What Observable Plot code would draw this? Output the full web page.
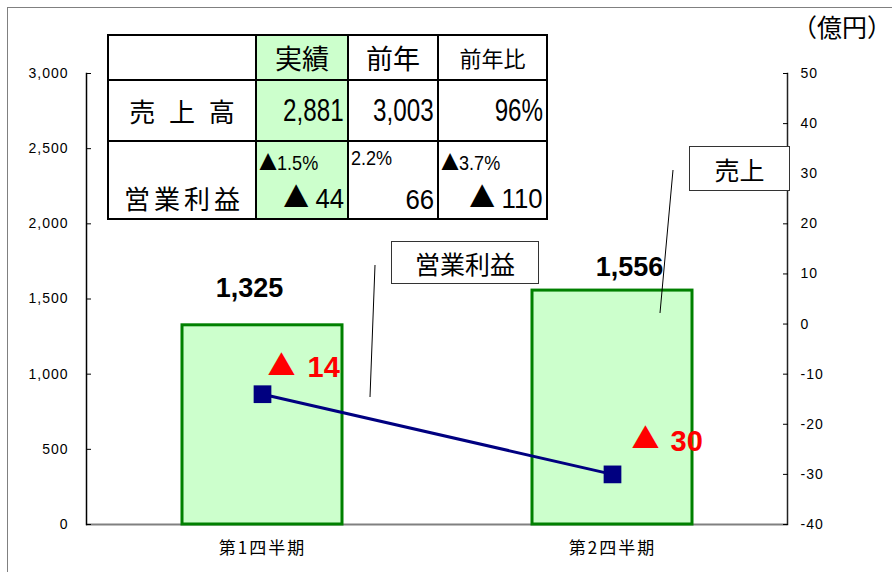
<!DOCTYPE html>
<html><head><meta charset="utf-8">
<script src="https://cdn.jsdelivr.net/npm/d3@7"></script>
<script src="https://cdn.jsdelivr.net/npm/@observablehq/plot@0.6"></script>
<style>
body{margin:0;background:#fff;}
#wrap{position:relative;width:892px;height:572px;overflow:hidden;font-family:'Liberation Sans','Noto Sans CJK JP',sans-serif;}
#frame{position:absolute;left:7px;top:7px;width:1000px;height:1000px;border-left:1.5px solid #808080;border-top:1.5px solid #808080;}
#tbl{position:absolute;left:107px;top:34px;border-collapse:collapse;table-layout:fixed;width:439px;}
#tbl td{border:2px solid #000;padding:0;position:relative;}
#tbl td.g{background:#ccffcc;border-right:2px dotted #888;}
.jp{font-family:'Noto Sans CJK JP',sans-serif;}
.tri{font-family:'Noto Sans CJK JP',sans-serif;}
.big .tri{margin-right:7px;}
.num{display:inline-block;font-family:'Liberation Sans',sans-serif;transform:scaleX(0.8);transform-origin:right center;white-space:nowrap;}
.unit{position:absolute;right:0px;top:14px;font-size:25px;line-height:25px;font-family:'Noto Sans CJK JP',sans-serif;}
.callout{position:absolute;border:1px solid #333;background:#fff;font-family:'Noto Sans CJK JP',sans-serif;font-size:25px;display:flex;align-items:center;justify-content:center;box-sizing:border-box;}
#lines{position:absolute;left:0;top:0;}
g[aria-label="y-axis tick label"] text{letter-spacing:1px;}
g[aria-label="x-axis tick label"] text{letter-spacing:2px;}
</style></head><body><div id="wrap"><div id="frame"></div></div><script>
const quarters = ["第1四半期", "第2四半期"];
const sales = [1325, 1556];
const profit = [-14, -30];
const salesTicks = [0, 500, 1000, 1500, 2000, 2500, 3000];
const profitTicks = [-40, -30, -20, -10, 0, 10, 20, 30, 40, 50];
const tableCols = ["実績", "前年", "前年比"];
const salesLabel = "売 上 高";
const salesRow = ["2,881", "3,003", "96%"];
const profitLabel = "営業利益";
const profitPct = ["▲1.5%", "2.2%", "▲3.7%"];
const profitRow = ["▲44", "66", "▲110"];
const unitLabel = "（億円）";
const calloutProfit = "営業利益";
const calloutSales = "売上";

const sMax = 3000, pMin = -40, pMax = 50;
const toS = p => (p - pMin) / (pMax - pMin) * sMax;
const toP = s => s / sMax * (pMax - pMin) + pMin;
const fmt = d3.format(",");

const data = quarters.map((q, i) => ({q, s: sales[i], p: profit[i]}));

const redTri = {fill: "#ff0000", fontSize: 28, fontFamily: "'Noto Sans CJK JP',sans-serif", textAnchor: "start"};
const redNum = {fill: "#ff0000", fontSize: 29, fontWeight: "bold", fontFamily: "'Liberation Sans',sans-serif", textAnchor: "start"};

const chart = Plot.plot({
  width: 892, height: 572,
  marginLeft: 86, marginRight: 105, marginTop: 73, marginBottom: 48,
  style: {background: "transparent", fontFamily: "'Liberation Sans','Noto Sans CJK JP',sans-serif", overflow: "visible"},
  x: {domain: quarters, paddingInner: 0.543, paddingOuter: 0.2715, label: null},
  y: {domain: [0, sMax], label: null},
  marks: [
    Plot.ruleY([0], {stroke: "#808080", strokeWidth: 2}),
    Plot.barY(data, {x: "q", y: "s", fill: "#ccffcc", stroke: "#008000", strokeWidth: 3}),
    Plot.lineY(data, {x: "q", y: d => toS(d.p), stroke: "#000080", strokeWidth: 3}),
    Plot.dot(data, {x: "q", y: d => toS(d.p), symbol: "square", r: 10, fill: "#000080"}),
    Plot.frame({anchor: "left", stroke: "#000", strokeWidth: 1.5}),
    Plot.frame({anchor: "right", stroke: "#222", strokeWidth: 1.5}),
    Plot.axisY(salesTicks, {anchor: "left", tickFormat: fmt, tickSize: -5, tickPadding: 23, fontSize: 14, label: null}),
    Plot.axisY(profitTicks.map(toS), {anchor: "right", tickFormat: d => String(Math.round(toP(d))), tickSize: -5, tickPadding: 18, fontSize: 14, label: null}),
    Plot.axisX({tickSize: 0, tickPadding: 17, fontSize: 17, fontFamily: "'Noto Sans CJK JP',sans-serif", label: null}),
    Plot.text([data[0]], {x: "q", y: "s", text: d => fmt(d.s), dx: -13, dy: -37, fontSize: 27, fontWeight: "bold"}),
    Plot.text([data[1]], {x: "q", y: "s", text: d => fmt(d.s), dx: 17, dy: -23, fontSize: 27, fontWeight: "bold"}),
    Plot.text([data[0]].filter(d => d.p < 0), {x: "q", y: d => toS(d.p), text: () => "▲", dx: 5, dy: -27, ...redTri}),
    Plot.text([data[0]], {x: "q", y: d => toS(d.p), text: d => String(Math.abs(d.p)), dx: 45, dy: -26, ...redNum}),
    Plot.text([data[1]].filter(d => d.p < 0), {x: "q", y: d => toS(d.p), text: () => "▲", dx: 19, dy: -34, ...redTri}),
    Plot.text([data[1]], {x: "q", y: d => toS(d.p), text: d => String(Math.abs(d.p)), dx: 58, dy: -33, ...redNum})
  ]
});
const wrap = document.getElementById("wrap");
wrap.appendChild(chart);

// table
const tri = s => s.replace(/▲/g, '<span class="tri">▲</span>');
const widths = [148, 92, 90, 109];
const heights = [45, 61, 78];
const tbl = document.createElement("table");
tbl.id = "tbl";
const cg = document.createElement("colgroup");
widths.forEach(w => { const c = document.createElement("col"); c.style.width = w + "px"; cg.appendChild(c); });
tbl.appendChild(cg);
function row(h) { const tr = document.createElement("tr"); tr.style.height = h + "px"; tbl.appendChild(tr); return tr; }
let tr = row(heights[0]);
let td = document.createElement("td"); tr.appendChild(td);
tableCols.forEach((c, i) => {
  const t = document.createElement("td");
  if (i === 0) t.className = "g";
  t.innerHTML = `<div class="jp" style="text-align:center;font-size:${i === 2 ? 22 : 27}px;line-height:${heights[0] - 4}px;">${c}</div>`;
  tr.appendChild(t);
});
tr = row(heights[1]);
td = document.createElement("td");
td.innerHTML = `<div class="jp" style="text-align:center;font-size:26px;letter-spacing:4px;padding-left:4px;">${salesLabel}</div>`;
tr.appendChild(td);
salesRow.forEach((v, i) => {
  const t = document.createElement("td");
  if (i === 0) t.className = "g";
  t.innerHTML = `<div style="text-align:right;padding-right:3px;font-size:31px;"><span class="num" style="transform:scaleX(0.78)">${v}</span></div>`;
  tr.appendChild(t);
});
tr = row(heights[2]);
td = document.createElement("td");
td.style.verticalAlign = "bottom";
td.innerHTML = `<div class="jp" style="text-align:center;font-size:26px;letter-spacing:4px;padding-left:4px;padding-bottom:2px;">${profitLabel}</div>`;
tr.appendChild(td);
profitRow.forEach((v, i) => {
  const t = document.createElement("td");
  if (i === 0) t.className = "g";
  t.innerHTML = `<div style="position:relative;height:${heights[2] - 4}px;">
    <span style="position:absolute;left:2px;top:3px;font-size:21px;"><span class="num" style="transform-origin:left center;transform:scaleX(0.86)">${tri(profitPct[i])}</span></span>
    <span class="big" style="position:absolute;right:3px;bottom:1px;font-size:28px;"><span class="num" style="transform:scaleX(0.92)">${tri(v)}</span></span></div>`;
  tr.appendChild(t);
});
wrap.appendChild(tbl);

// unit
const u = document.createElement("div");
u.className = "unit"; u.textContent = unitLabel;
wrap.appendChild(u);

// callouts
function callout(text, l, t, w, h) {
  const d = document.createElement("div");
  d.className = "callout"; d.textContent = text;
  Object.assign(d.style, {left: l + "px", top: t + "px", width: w + "px", height: h + "px"});
  wrap.appendChild(d);
}
const ns = "http://www.w3.org/2000/svg";
const svg = document.createElementNS(ns, "svg");
svg.setAttribute("id", "lines"); svg.setAttribute("width", 892); svg.setAttribute("height", 572);
[[375, 265, 370, 397], [673, 170, 660, 313]].forEach(([x1, y1, x2, y2]) => {
  const l = document.createElementNS(ns, "line");
  l.setAttribute("x1", x1); l.setAttribute("y1", y1); l.setAttribute("x2", x2); l.setAttribute("y2", y2);
  l.setAttribute("stroke", "#000"); l.setAttribute("stroke-width", 1);
  svg.appendChild(l);
});
wrap.appendChild(svg);
callout(calloutProfit, 391, 241, 148, 43);
callout(calloutSales, 689, 146, 101, 45);
</script></body></html>
